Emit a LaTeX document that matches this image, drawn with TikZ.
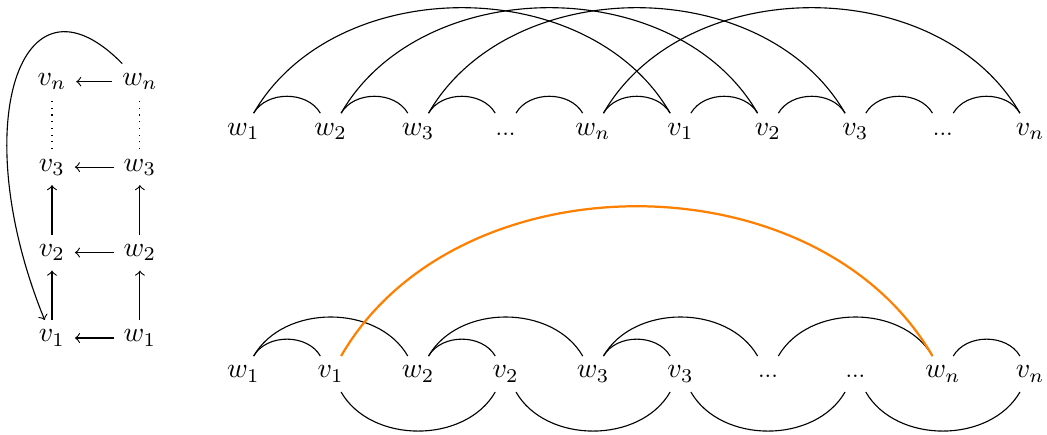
\documentclass[tikz,border=0pt]{standalone}
\usetikzlibrary{positioning}

\begin{document}
\begin{tikzpicture}[x=1cm,y=1cm,
  vtx/.style={text height=1ex,text depth=.35ex},
  hop/.style={bend left=60},
  dip/.style={bend right=60}]
  \useasboundingbox (0,0) rectangle (13.17,5.46);
  % the cycle on the left
  \foreach \i/\y in {1/1.208,2/2.283,3/3.358,n/4.433} {
    \node[vtx] (v\i) at (0.654,\y) {$v_\i$};
    \node[vtx] (w\i) at (1.76,\y) {$w_\i$};
    \draw[->] (w\i) -- (v\i);
  }
  \draw[->] (v1) -- (v2);
  \draw[->] (v2) -- (v3);
  \draw[->] (w1) -- (w2);
  \draw[->] (w2) -- (w3);
  \draw[dotted] (v3) -- (vn);
  \draw[dotted] (w3) -- (wn);
  \draw[->] (wn) .. controls +(-1.5,1.53) and +(-1.09,2.68) .. (v1);
  % top row: all w first, then all v
  \foreach \i/\k in {1/0,2/1,3/2,n/4} {
    \node[vtx] (tw\i) at (3.06+1.1*\k,3.81) {$w_\i$};
    \node[vtx] (tv\i) at (8.56+1.1*\k,3.81) {$v_\i$};
  }
  \node[vtx] (tdw) at (6.36,3.81) {\footnotesize ...};
  \node[vtx] (tdv) at (11.86,3.81) {\footnotesize ...};
  \foreach \a/\b in {tw1/tw2,tw2/tw3,tw3/tdw,tdw/twn,twn/tv1,tv1/tv2,tv2/tv3,tv3/tdv,tdv/tvn}
    \draw (\a) to[hop] (\b);
  \foreach \i in {1,2,3,n}
    \draw (tw\i) to[hop] (tv\i);
  % bottom row: w and v alternating
  \foreach \i/\k in {1/0,2/2,3/4,n/8} {
    \node[vtx] (bw\i) at (3.06+1.1*\k,0.755) {$w_\i$};
    \node[vtx] (bv\i) at (4.16+1.1*\k,0.755) {$v_\i$};
  }
  \node[vtx] (bdw) at (9.66,0.755) {\footnotesize ...};
  \node[vtx] (bdv) at (10.76,0.755) {\footnotesize ...};
  \foreach \a/\b in {bw1/bv1,bw1/bw2,bw2/bv2,bw2/bw3,bw3/bv3,bw3/bdw,bdw/bwn,bwn/bvn}
    \draw (\a) to[hop] (\b);
  \foreach \a/\b in {bv1/bv2,bv2/bv3,bv3/bdv,bdv/bvn}
    \draw (\a) to[dip] (\b);
  \draw[orange,thick] (bv1) to[hop] (bwn);
\end{tikzpicture}
\end{document}
